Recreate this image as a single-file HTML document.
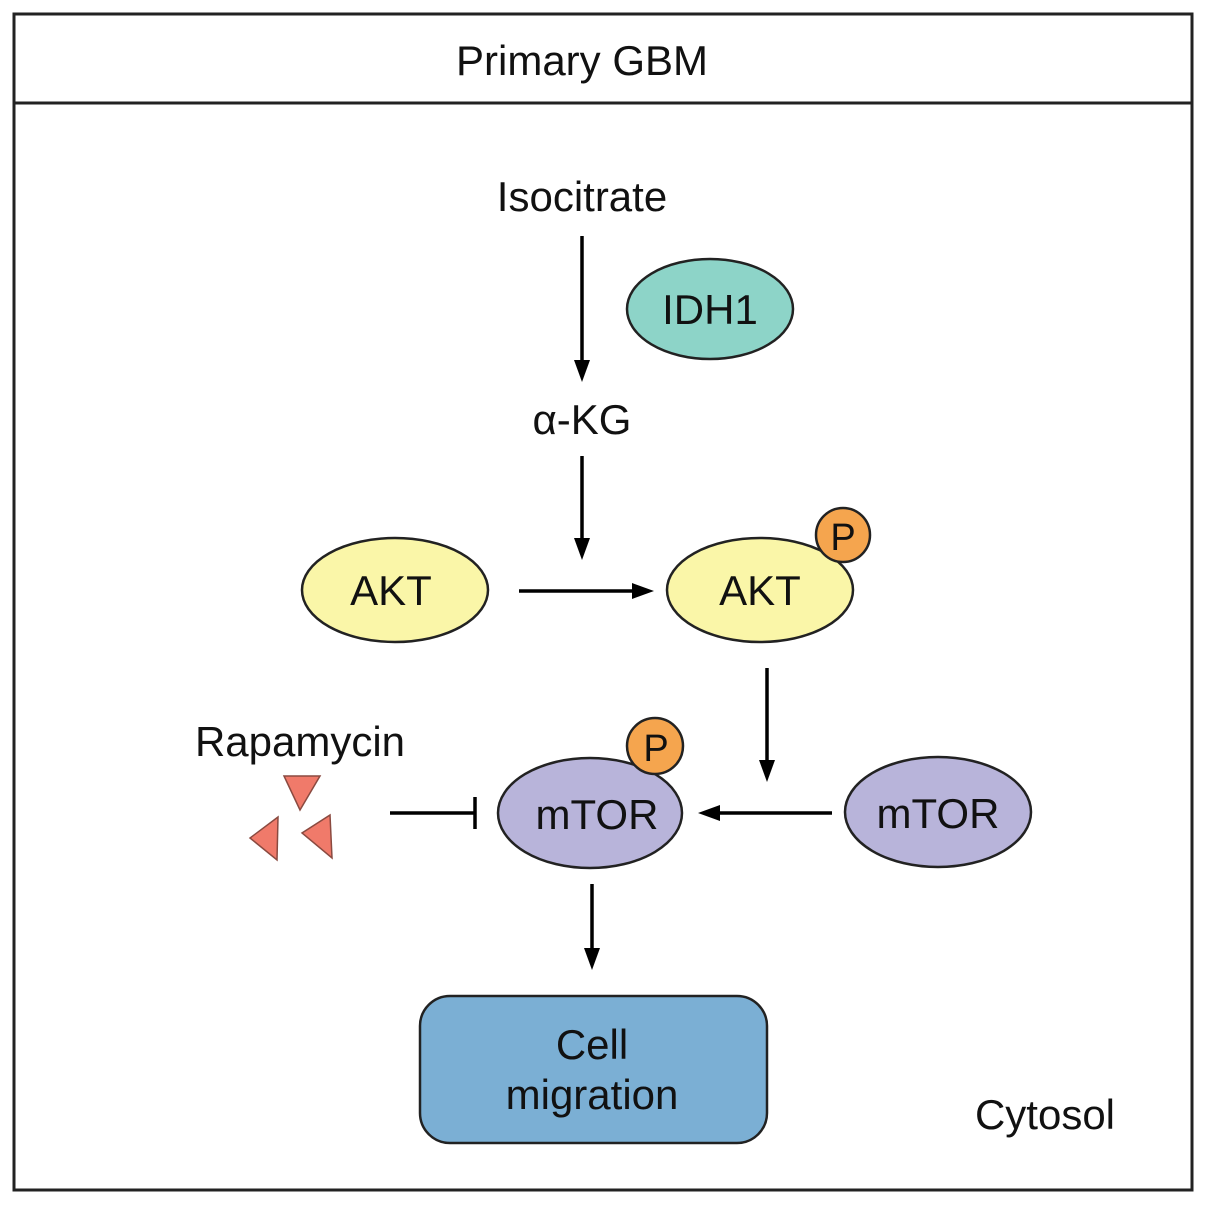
<!DOCTYPE html>
<html><head><meta charset="utf-8"><style>html,body{margin:0;padding:0;background:#fff}svg{display:block}</style></head>
<body>
<svg width="1205" height="1205" viewBox="0 0 1205 1205" xmlns="http://www.w3.org/2000/svg" font-family="Liberation Sans, Arial, sans-serif">
<rect x="14" y="14" width="1178" height="1176" fill="none" stroke="#222" stroke-width="3"/>
<line x1="14" y1="103" x2="1192" y2="103" stroke="#222" stroke-width="3"/>
<text x="582" y="75" font-size="42" text-anchor="middle" fill="#111">Primary GBM</text>

<text x="582" y="211" font-size="42" text-anchor="middle" fill="#111">Isocitrate</text>
<g stroke="#000" stroke-width="3.5" fill="none">
<line x1="582" y1="236" x2="582" y2="360"/>
<line x1="582" y1="456" x2="582" y2="538"/>
<line x1="519" y1="591" x2="632" y2="591"/>
<line x1="767" y1="668" x2="767" y2="760"/>
<line x1="832" y1="813" x2="720" y2="813"/>
<line x1="592" y1="884" x2="592" y2="948"/>
<line x1="390" y1="813" x2="475" y2="813"/>
<line x1="475" y1="797" x2="475" y2="829"/>
</g>
<g fill="#000">
<path d="M574,360 L590,360 L582,382 z"/>
<path d="M574,538 L590,538 L582,560 z"/>
<path d="M632,583 L632,599 L654,591 z"/>
<path d="M759,760 L775,760 L767,782 z"/>
<path d="M720,805 L720,821 L698,813 z"/>
<path d="M584,948 L600,948 L592,970 z"/>
</g>
<ellipse cx="710" cy="309" rx="83" ry="50" fill="#8dd4c8" stroke="#222" stroke-width="2.5"/>
<text x="710" y="324" font-size="42" text-anchor="middle" fill="#111">IDH1</text>
<text x="582" y="434" font-size="42" text-anchor="middle" fill="#111">α-KG</text>

<ellipse cx="395" cy="590" rx="93" ry="52" fill="#faf6a8" stroke="#222" stroke-width="2.5"/>
<text x="391" y="605" font-size="42" text-anchor="middle" fill="#111">AKT</text>
<ellipse cx="760" cy="590" rx="93" ry="52" fill="#faf6a8" stroke="#222" stroke-width="2.5"/>
<text x="760" y="605" font-size="42" text-anchor="middle" fill="#111">AKT</text>
<circle cx="843" cy="535" r="27" fill="#f5a54e" stroke="#222" stroke-width="2.5"/>
<text x="843" y="550" font-size="38" text-anchor="middle" fill="#111">P</text>

<ellipse cx="590" cy="813" rx="92" ry="55" fill="#b8b4da" stroke="#222" stroke-width="2.5"/>
<text x="597" y="829" font-size="42" text-anchor="middle" fill="#111">mTOR</text>
<circle cx="655" cy="746" r="28" fill="#f5a54e" stroke="#222" stroke-width="2.5"/>
<text x="656" y="761" font-size="38" text-anchor="middle" fill="#111">P</text>
<ellipse cx="938" cy="812" rx="93" ry="55" fill="#b8b4da" stroke="#222" stroke-width="2.5"/>
<text x="938" y="828" font-size="42" text-anchor="middle" fill="#111">mTOR</text>

<text x="300" y="756" font-size="42" text-anchor="middle" fill="#111">Rapamycin</text>
<g fill="#f07a6a" stroke="#8a4a40" stroke-width="1.5">
<path d="M284,776 L320,776 L300,810 z"/>
<path d="M278,817 L250,838 L277,860 z"/>
<path d="M330,815 L302,833 L332,858 z"/>
</g>

<rect x="420" y="996" width="347" height="147" rx="30" fill="#7bafd4" stroke="#222" stroke-width="2.5"/>
<text x="592" y="1059" font-size="42" text-anchor="middle" fill="#111">Cell</text>
<text x="592" y="1109" font-size="42" text-anchor="middle" fill="#111">migration</text>
<text x="1045" y="1129" font-size="42" text-anchor="middle" fill="#111">Cytosol</text>
</svg>
</body></html>
